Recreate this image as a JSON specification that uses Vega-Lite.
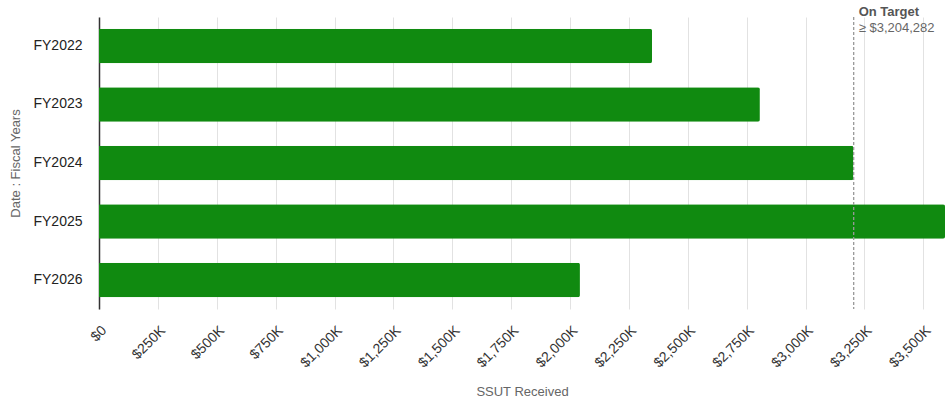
{
  "$schema": "https://vega.github.io/schema/vega-lite/v6.json",
  "width": 846,
  "height": 292,
  "autosize": {"type": "none"},
  "padding": {"left": 99, "top": 17, "right": 0, "bottom": 93},
  "config": {
    "view": {"stroke": null},
    "font": "Liberation Sans"
  },
  "layer": [
    {
      "data": {"values": [
        {"year": "FY2022", "ssut": 2348000},
        {"year": "FY2023", "ssut": 2806000},
        {"year": "FY2024", "ssut": 3203000},
        {"year": "FY2025", "ssut": 3650000},
        {"year": "FY2026", "ssut": 2042000}
      ]},
      "mark": {"type": "bar", "color": "#108a10", "cornerRadiusEnd": 2},
      "encoding": {
        "y": {
          "field": "year", "type": "nominal", "sort": null,
          "scale": {"paddingInner": 0.41, "paddingOuter": 0.2},
          "axis": {
            "title": "Date : Fiscal Years", "titleFontWeight": "normal",
            "titleFontSize": 13, "titleColor": "#666666", "titlePadding": 10,
            "labelFontSize": 14, "labelColor": "#222222", "labelPadding": 17,
            "ticks": false, "domainColor": "#333333", "domainWidth": 1.5
          }
        },
        "x": {
          "field": "ssut", "type": "quantitative",
          "scale": {"domain": [0, 3592000], "nice": false, "zero": true, "clamp": true},
          "axis": {
            "title": "SSUT Received", "titleFontWeight": "normal", "titleFontSize": 13,
            "titleColor": "#666666", "titlePadding": 16,
            "values": [0, 250000, 500000, 750000, 1000000, 1250000, 1500000, 1750000, 2000000, 2250000, 2500000, 2750000, 3000000, 3250000, 3500000],
            "labelExpr": "datum.value == 0 ? '$0' : '$' + format(datum.value / 1000, ',') + 'K'",
            "labelAngle": -45, "labelFontSize": 14, "labelColor": "#333333", "labelPadding": 14,
            "domain": false, "ticks": false, "gridColor": "#e2e2e2", "labelBound": false, "labelOverlap": false
          }
        }
      }
    },
    {
      "data": {"values": [{"target": 3204282, "label1": "On Target", "label2": "≥ $3,204,282"}]},
      "layer": [
        {
          "mark": {"type": "rule", "strokeDash": [3, 2], "color": "#999999", "strokeWidth": 1.3},
          "encoding": {"x": {"field": "target", "type": "quantitative"}}
        },
        {
          "mark": {"type": "text", "align": "left", "baseline": "middle", "dx": 5, "y": -5, "fontWeight": "bold", "fontSize": 13, "color": "#555555"},
          "encoding": {"x": {"field": "target", "type": "quantitative"}, "text": {"field": "label1"}}
        },
        {
          "mark": {"type": "text", "align": "left", "baseline": "middle", "dx": 5, "y": 11, "fontSize": 13, "color": "#666666"},
          "encoding": {"x": {"field": "target", "type": "quantitative"}, "text": {"field": "label2"}}
        }
      ]
    }
  ]
}
